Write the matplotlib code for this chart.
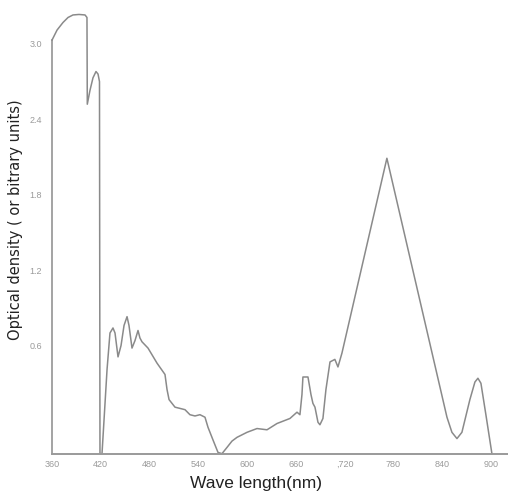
import matplotlib
matplotlib.use("Agg")
import matplotlib.pyplot as plt
from matplotlib.ticker import FixedLocator, FixedFormatter

# Absorption spectrum (wavelength in nm, optical density)
wavelength = [360, 366.2, 373.5, 379.7, 385.8, 393.2, 400.6, 403.0, 403.4,
              406.7, 410.4, 414.1, 416.6, 418.4, 419.0,
              421.5, 424.0, 427.7, 431.3, 435.0, 437.5, 441.2, 444.9, 448.6,
              452.3, 454.7, 458.4, 462.1, 465.8, 468.2, 470.7, 478.1, 489.2,
              499.0, 501.5, 504.0, 511.3, 517.5, 523.6, 529.7, 535.9, 542.0,
              548.2, 551.9, 558.0, 564.2, 569.1, 575.3, 581.4, 587.6, 599.9,
              612.2, 624.5, 636.8, 652.7, 661.4, 665.0, 667.5, 668.7, 674.9,
              678.6, 681.0, 683.5, 687.2, 689.6, 693.3, 697.0, 702.0, 708.0,
              711.8, 716.7, 772.0, 845.9, 852.0, 858.2, 864.3, 874.1, 880.3,
              884.0, 887.7, 893.8, 901.2]
density = [3.03, 3.11, 3.17, 3.21, 3.23, 3.234, 3.23, 3.21, 2.52,
           2.63, 2.73, 2.78, 2.76, 2.70, -0.26,
           -0.26, 0.01, 0.41, 0.70, 0.74, 0.70, 0.51, 0.60, 0.76,
           0.83, 0.76, 0.58, 0.64, 0.72, 0.66, 0.63, 0.58, 0.46,
           0.37, 0.25, 0.17, 0.11, 0.10, 0.09, 0.05, 0.04, 0.05,
           0.03, -0.05, -0.15, -0.25, -0.26, -0.21, -0.16, -0.13, -0.09,
           -0.06, -0.07, -0.02, 0.02, 0.07, 0.05, 0.21, 0.35, 0.35,
           0.21, 0.14, 0.11, -0.01, -0.03, 0.02, 0.25, 0.47, 0.49,
           0.43, 0.54, 2.09, 0.03, -0.09, -0.14, -0.09, 0.17, 0.31,
           0.34, 0.30, 0.05, -0.26]

x_ticks = [360, 420, 480, 540, 600, 660, 720, 780, 840, 900]
x_tick_labels = ["360", "420", "480", "540", "600", "660", ",720", "780", "840", "900"]
y_ticks = [0.6, 1.2, 1.8, 2.4, 3.0]
y_tick_labels = ["0.6", "1.2", "1.8", "2.4", "3.0"]

X_MIN, X_MAX = 360, 921
Y_MIN, Y_MAX = -0.2625, 3.349

narrow = ["Liberation Sans Narrow", "Liberation Sans", "DejaVu Sans"]

fig = plt.figure(figsize=(5.08, 4.99), dpi=100)
ax = fig.add_axes([0.1024, 0.0902, 0.8976, 0.9098])

line_color = "#8a8a8a"
ax.plot(wavelength, density, color=line_color, lw=1.1, solid_joinstyle="round",
        clip_on=False)

ax.set_xlim(X_MIN, X_MAX)
ax.set_ylim(Y_MIN, Y_MAX)

for s in ["top", "right"]:
    ax.spines[s].set_visible(False)
ax.spines["bottom"].set_color("#9a9a9a")
ax.spines["bottom"].set_linewidth(1.4)
ax.spines["left"].set_color(line_color)
ax.spines["left"].set_linewidth(1.1)
ax.spines["left"].set_bounds(Y_MIN, density[0])

ax.xaxis.set_major_locator(FixedLocator(x_ticks))
ax.xaxis.set_major_formatter(FixedFormatter(x_tick_labels))
ax.yaxis.set_major_locator(FixedLocator(y_ticks))
ax.yaxis.set_major_formatter(FixedFormatter(y_tick_labels))
ax.tick_params(axis="x", length=0, pad=4.5, labelsize=6.5, labelcolor="#9a9a9a")
ax.tick_params(axis="y", length=0, pad=7, labelsize=6.5, labelcolor="#9a9a9a")
for lab in ax.get_xticklabels() + ax.get_yticklabels():
    lab.set_family(narrow)

fig.text(0.504, 0.016, "Wave length(nm)", ha="center", va="bottom",
         fontsize=12.5, color="#222222", family=narrow)
fig.text(0.030, 0.559, "Optical density ( or bitrary units)", rotation=90,
         ha="center", va="center", fontsize=10.5, color="#222222",
         family=["DejaVu Sans"])

fig.savefig("out.png", dpi=100)
